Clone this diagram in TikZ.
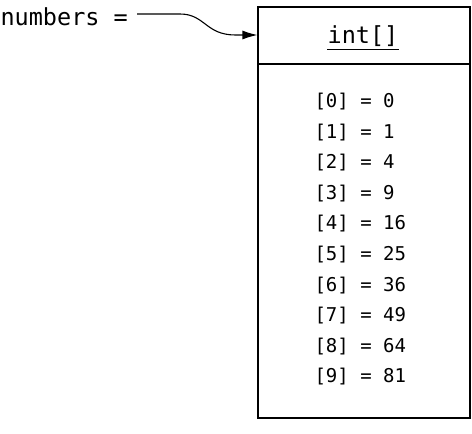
\documentclass[tikz,border=0pt]{standalone}
\usepackage{fontspec}
\setmonofont{DejaVu Sans Mono}
\usetikzlibrary{arrows.meta,calc,positioning}

\tikzset{
  bigtt/.style={font=\ttfamily\fontsize{23.5}{25}\selectfont, inner sep=0pt},
  entry/.style={font=\ttfamily\fontsize{19}{20}\selectfont, inner sep=0pt, anchor=west}
}

\begin{document}
\begin{tikzpicture}[x=1pt,y=-1pt,line width=1.1pt]
\useasboundingbox (0,0) rectangle (472,434);

% Array object
\node[draw, minimum width=212pt, minimum height=411pt, inner sep=0pt] (arr) at (364,212.5) {};
\draw (arr.west |- 0,64) -- (arr.east |- 0,64);
\node[bigtt] (hdr) at (363,36) {int[]};
\draw ([yshift=-6pt]hdr.base west) -- ([yshift=-6pt]hdr.base east);

% Elements
\foreach \i/\v in {0/0,1/1,2/4,3/9,4/16,5/25,6/36,7/49,8/64,9/81}
  \node[entry] (e\i) at (314,{101.5+30.6*\i}) {[\i] = \v};

% Variable and reference
\node[bigtt, anchor=west] (lbl) at (0,17) {numbers =};
\coordinate (tail) at (137,14);
\coordinate (head) at (arr.west |- 0,35);
\draw[-{Latex[length=15pt,width=9pt]}] (tail) -- ++(43,0) .. controls +(25,0) and +(-30,0) .. ($(head)+(-22,0)$) -- (head);

\end{tikzpicture}
\end{document}
